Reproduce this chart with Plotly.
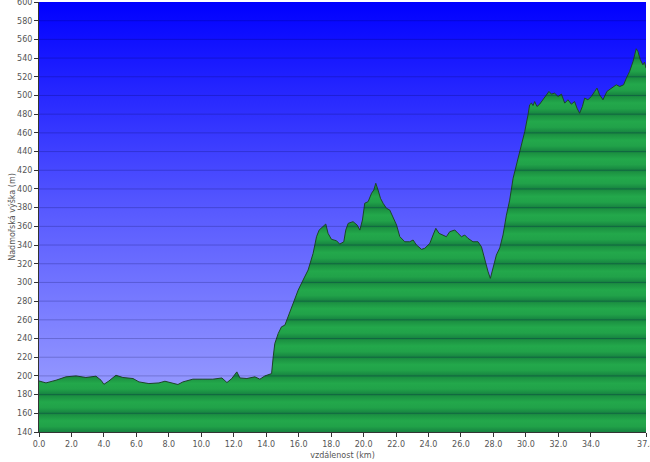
import plotly.graph_objects as go

# Elevation profile (distance km, elevation m)
distance_km = [
    0.0, 0.43, 1.05, 1.66, 2.28, 2.89, 3.51, 3.82, 4.00, 4.31, 4.74, 5.17, 5.79, 6.16, 6.77, 7.39,
    7.76, 8.07, 8.56, 8.87, 9.48, 10.10, 10.71, 11.27, 11.58, 11.88, 12.19, 12.38, 12.81, 13.30,
    13.61, 13.92, 14.23, 14.33, 14.43, 14.53, 14.74, 14.94, 15.15, 15.35, 15.66, 15.97, 16.27,
    16.58, 16.89, 17.10, 17.26, 17.51, 17.67, 17.81, 18.02, 18.33, 18.53, 18.78, 18.90, 19.05,
    19.35, 19.60, 19.77, 19.93, 20.07, 20.28, 20.49, 20.63, 20.75, 20.89, 21.04, 21.20, 21.41,
    21.61, 21.82, 22.03, 22.23, 22.43, 22.54, 22.84, 23.05, 23.26, 23.57, 23.77, 24.08, 24.28,
    24.45, 24.65, 24.90, 25.10, 25.31, 25.62, 25.82, 26.03, 26.23, 26.43, 26.74, 27.05, 27.26,
    27.46, 27.67, 27.81, 27.97, 28.18, 28.39, 28.59, 28.80, 29.00, 29.21, 29.62, 29.93, 30.13,
    30.23, 30.34, 30.44, 30.54, 30.68, 30.85, 31.05, 31.26, 31.42, 31.57, 31.77, 31.98, 32.19,
    32.39, 32.59, 32.80, 33.00, 33.15, 33.31, 33.48, 33.62, 33.82, 34.03, 34.24, 34.38, 34.54,
    34.75, 34.99, 35.26, 35.57, 35.78, 36.02, 36.19, 36.39, 36.60, 36.70, 36.80, 36.90, 37.05,
    37.21, 37.31, 37.40,
]
elevation_m = [
    194.6, 192.5, 195.4, 199.0, 200.0, 198.3, 199.7, 195.4, 191.0, 194.6, 200.7, 198.3, 197.2, 193.6, 191.8, 192.5,
    194.3, 192.9, 190.8, 193.6, 196.5, 196.5, 196.5, 197.8, 192.9, 197.2, 204.3, 197.8, 197.2, 199.0,
    196.5, 200.0, 201.5, 202.5, 220.3, 234.7, 245.4, 252.5, 254.3, 263.2, 277.5, 291.8, 302.5,
    313.2, 331.1, 348.9, 356.0, 359.6, 362.5, 352.5, 346.1, 344.6, 341.0, 343.5, 356.0, 363.2,
    365.0, 361.4, 356.0, 366.8, 384.7, 386.4, 395.4, 398.9, 406.1, 398.9, 390.0, 384.7, 379.3,
    377.5, 370.3, 361.4, 349.0, 346.1, 343.5, 343.5, 345.4, 340.0, 335.4, 336.5, 341.8, 350.7,
    357.9, 352.5, 350.7, 348.9, 354.3, 356.1, 352.5, 348.9, 350.7, 347.2, 343.5, 343.5, 338.2,
    323.9, 311.4, 304.3, 315.0, 329.3, 337.0, 350.7, 372.0, 388.0, 411.4, 440.0, 461.4, 479.3,
    490.0, 491.8, 489.2, 493.5, 488.2, 490.7, 495.4, 500.7, 504.3, 501.5, 502.5, 498.9, 501.5,
    491.8, 495.4, 490.7, 493.5, 486.4, 481.0, 488.2, 497.2, 495.4, 498.9, 504.3, 507.9, 500.7,
    495.4, 504.3, 507.9, 511.4, 509.6, 511.4, 518.6, 525.7, 536.4, 543.5, 550.0, 547.1, 538.2,
    532.8, 535.6, 529.3,
]

x_tickvals = [0, 2, 4, 6, 8, 10, 12, 14, 16, 18, 20, 22, 24, 26, 28, 30, 32, 34, 37.4]
x_ticktext = ["0.0", "2.0", "4.0", "6.0", "8.0", "10.0", "12.0", "14.0", "16.0", "18.0",
              "20.0", "22.0", "24.0", "26.0", "28.0", "30.0", "32.0", "34.0", "37.4"]
y_min, y_max, y_step = 140, 600, 20
y_tickvals = list(range(y_min, y_max + 1, y_step))

x_title = "vzdálenost (km)"
y_title = "Nadmořská výška (m)"

# banded green colorscale, one band per grid step
n_bands = (y_max - y_min) // y_step
green_scale = []
for i in range(n_bands):
    b = i / n_bands
    w = 1 / n_bands
    green_scale += [
        [b, "#168240"],
        [b + 0.3 * w, "#21a249"],
        [b + 0.6 * w, "#23a84b"],
        [b + 0.9 * w, "#1c9242"],
    ]
green_scale.append([1.0, "#168240"])

fig = go.Figure()

# sky background (gradient)
fig.add_trace(go.Scatter(
    x=[distance_km[0], distance_km[-1]], y=[y_max, y_max],
    mode="lines", line=dict(width=0), fill="tozeroy",
    fillgradient=dict(type="vertical", start=y_min, stop=y_max,
                      colorscale=[[0, "#a4a8ff"], [0.5, "#5a5cff"], [1, "#0000ff"]]),
    hoverinfo="skip", showlegend=False,
))

# terrain
fig.add_trace(go.Scatter(
    x=distance_km, y=elevation_m, mode="lines",
    line=dict(color="#1d4527", width=1),
    fill="tozeroy",
    fillgradient=dict(type="vertical", start=y_min, stop=y_max, colorscale=green_scale),
    showlegend=False,
))

# horizontal grid lines drawn over everything
for v in y_tickvals[1:-1]:
    fig.add_shape(type="line", xref="paper", yref="y", x0=0, x1=1, y0=v, y1=v,
                  line=dict(color="rgba(0,0,70,0.22)", width=1), layer="above")

tick_font = dict(family="DejaVu Sans", size=8, color="#555555")

fig.update_xaxes(
    range=[distance_km[0], distance_km[-1]],
    tickvals=x_tickvals, ticktext=x_ticktext,
    ticks="outside", ticklen=4, tickcolor="#333333",
    showgrid=False, zeroline=False,
    showline=True, linecolor="#333333", linewidth=1,
    tickfont=tick_font, automargin=False, ticklabeloverflow="allow",
    title=dict(text=x_title, font=tick_font, standoff=4),
)
fig.update_yaxes(
    range=[y_min, y_max],
    tickvals=y_tickvals,
    ticks="outside", ticklen=4, tickcolor="#333333",
    showgrid=False, zeroline=False,
    showline=True, linecolor="#333333", linewidth=1,
    tickfont=tick_font, automargin=False, ticklabeloverflow="allow",
    title=dict(text=y_title, font=tick_font, standoff=0),
)

fig.update_layout(
    width=650, height=462,
    margin=dict(l=39, r=4, t=2, b=30),
    paper_bgcolor="white", plot_bgcolor="#8080ff",
    showlegend=False,
)

fig.write_html(
    "out.html",
    config={"displayModeBar": False},
    post_script="document.body.style.margin='0';document.body.style.overflow='hidden';",
)
